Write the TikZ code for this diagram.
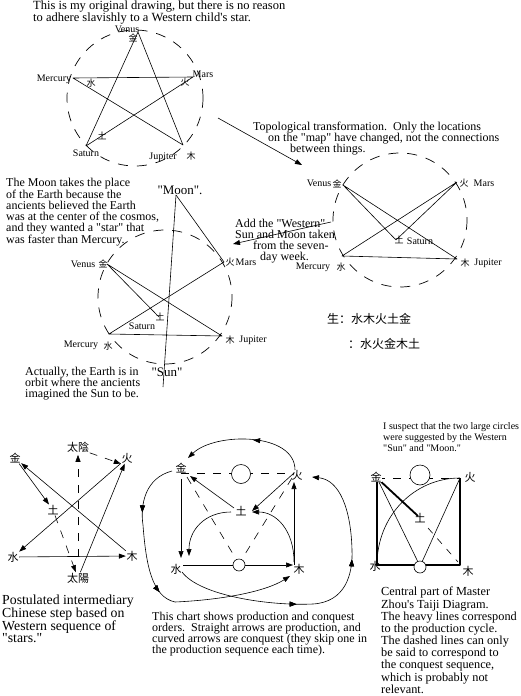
\documentclass[tikz,border=0pt]{standalone}
\usepackage{fontspec}
\setmainfont{Liberation Serif}
\newfontfamily\cjk{Noto Sans CJK SC}
\usetikzlibrary{arrows.meta,decorations.markings}
\newcommand{\qq}{\textquotedbl}
\newcommand{\ap}{\textquotesingle}
\tikzset{
  orbit/.style={line width=.7pt, dash pattern=on 10pt off 9pt},
  ray/.style={line width=.6pt},
  hint/.style={line width=.6pt, dash pattern=on 8pt off 8pt},
  heavy/.style={line width=2.6pt},
  planet/.style={font=\fontsize{10}{10}\selectfont, inner sep=0pt},
  zi/.style={font=\cjk\fontsize{9}{9}\selectfont, inner sep=0pt},
  bigzi/.style={font=\cjk\fontsize{11}{11}\selectfont, inner sep=.5pt},
  qlabel/.style={font=\fontsize{13}{13}\selectfont, inner sep=0pt},
  note/.style={font=\fontsize{12}{11}\selectfont, align=left, anchor=north west, inner sep=0pt},
  bignote/.style={font=\fontsize{13.8}{12.7}\selectfont, align=left, anchor=north west, inner sep=0pt},
  midarrow/.style={postaction={decorate}, decoration={markings, mark=at position #1 with {\arrow{Triangle[length=7pt,width=5pt]}}}},
}
\begin{document}
\begin{tikzpicture}[x=1pt, y=-1pt, line join=round, >={Triangle[length=7pt,width=5pt]}]
\useasboundingbox (0,0) rectangle (521,696);

% title
\node[note, font=\fontsize{12.5}{12}\selectfont] (title) at (33,1) {This is my original drawing, but there is no reason\\to adhere slavishly to a Western child\ap s star.};

% first star
\draw[orbit] (135,98) circle[radius=68];
\coordinate (ve1) at (138,32);
\coordinate (me1) at (73,78);
\coordinate (ma1) at (193,77);
\coordinate (sa1) at (86,146);
\coordinate (ju1) at (183,145);
\draw[ray] (ve1)--(sa1)--(ma1)--(me1)--(ju1)--cycle;
\node[planet] (venus1) at (127,29) {Venus};
\node[zi] (jin1) at (133,38) {金};
\node[planet] (mercury1) at (54,79) {Mercury};
\node[zi] (shui1) at (91,83) {水};
\node[planet] (mars1) at (203,74) {Mars};
\node[zi] (huo1) at (185,82) {火};
\node[planet] (saturn1) at (86,153) {Saturn};
\node[zi] (tu1) at (102,136) {土};
\node[planet] (jupiter1) at (163,157) {Jupiter};
\node[zi] (mu1) at (191,156) {木};

% transformation
\coordinate (tfrom) at (218,118);
\coordinate (tto) at (302,165);
\draw[ray,->] (tfrom) -- (tto);
\node[note] (topo) at (253,122) {Topological transformation.\ \ Only the locations\\\hspace*{15pt}on the \qq map\qq\ have changed, not the connections\\\hspace*{37pt}between things.};

% second star
\draw[orbit] (400,220) circle[radius=67];
\coordinate (ve2) at (343,185);
\coordinate (ma2) at (457,182);
\coordinate (sa2) at (396,240);
\coordinate (me2) at (342,256);
\coordinate (ju2) at (457,259);
\draw[ray] (ve2)--(sa2)--(ma2)--(me2)--(ju2)--cycle;
\node[planet] (venus2) at (319,183) {Venus};
\node[zi] (jin2) at (337,184) {金};
\node[planet] (mars2) at (484,183) {Mars};
\node[zi] (huo2) at (464,183) {火};
\node[planet] (saturn2) at (420,241) {Saturn};
\node[zi] (tu2) at (399,240) {土};
\node[planet] (mercury2) at (313,267) {Mercury};
\node[zi] (shui2) at (341,267) {水};
\node[planet] (jupiter2) at (488,263) {Jupiter};
\node[zi] (mu2) at (465,263) {木};

% sun and moon added
\node[note] (addsun) at (235,219) {Add the \qq Western\qq\\Sun and Moon taken\\\hspace*{18pt}from the seven-\\\hspace*{25pt}day week.};
\coordinate (afrom) at (331,222);
\coordinate (ato) at (233,244);
\draw[ray,->] (afrom) -- (ato);

\node[anchor=west, font=\cjk\fontsize{12}{12}\selectfont, inner sep=0pt] (sheng) at (327,319) {生：水木火土金};
\node[anchor=west, font=\cjk\fontsize{12}{12}\selectfont, inner sep=0pt] (ke) at (348,344) {：水火金木土};

% third star
\node[note] (moontext) at (6,178) {The Moon takes the place\\of the Earth because the\\ancients believed the Earth\\was at the center of the cosmos,\\and they wanted a \qq star\qq\ that\\was faster than Mercury.};
\draw[orbit] (165,297) circle[radius=67];
\coordinate (moon) at (176,195);
\coordinate (sun) at (163,387);
\coordinate (ve3) at (107,264);
\coordinate (ma3) at (224,262);
\coordinate (sa3) at (159,317);
\coordinate (me3) at (109,334);
\coordinate (ju3) at (222,336);
\draw[ray] (moon) -- (sun);
\draw[ray] (moon) -- (ma3) -- (me3) -- (ju3) -- (ve3) -- (sa3);
\node[qlabel] (moonL) at (180,190) {\qq Moon\qq.};
\node[planet] (venus3) at (83,264) {Venus};
\node[zi] (jin3) at (103,264) {金};
\node[planet] (mars3) at (246,262) {Mars};
\node[zi] (huo3) at (230,262) {火};
\node[planet] (saturn3) at (142,326) {Saturn};
\node[zi] (tu3) at (160,317) {土};
\node[planet] (mercury3) at (81,345) {Mercury};
\node[zi] (shui3) at (108,346) {水};
\node[planet] (jupiter3) at (253,340) {Jupiter};
\node[zi] (mu3) at (230,340) {木};
\node[qlabel] (sunL) at (167,372) {\qq Sun\qq};
\node[note] (earth) at (25,367) {Actually, the Earth is in\\orbit where the ancients\\imagined the Sun to be.};

% intermediary step
\node[bigzi] (yin) at (78,447) {太陰};
\node[bigzi] (jin4) at (15,458) {金};
\node[bigzi] (huo4) at (127,458) {火};
\node[bigzi] (tu4) at (53,510) {土};
\node[bigzi] (shui4) at (13,557) {水};
\node[bigzi] (mu4) at (132,556) {木};
\node[bigzi] (yang) at (78,578) {太陽};
\draw[hint,->,shorten <=15pt,shorten >=2pt] (yang) -- (yin);
\draw[hint,->] (yin.south east) -- (huo4.south west);
\draw[ray,->] (jin4) -- (tu4);
\draw[hint,->] (tu4) -- (yang);
\draw[ray,->] (yang) -- (huo4);
\draw[ray,->] (huo4) -- (shui4);
\draw[ray,->] (shui4) -- (mu4);
\draw[ray,->] (mu4) -- (jin4);
\node[bignote] (postulated) at (2,595) {Postulated intermediary\\Chinese step based on\\Western sequence of\\\qq stars.\qq};

% production and conquest chart
\coordinate (cj) at (181,473);
\coordinate (ch) at (294,473);
\coordinate (cs) at (181,565);
\coordinate (cm) at (294,565);
\coordinate (ct) at (241,512);
\draw[hint] (cj) -- (ch);
\draw[hint] (187,477) -- (236,559);
\draw[hint] (292,478) -- (242,559);
\draw[ray,fill=white] (241,474) circle[radius=9.5];
\draw[ray,->,shorten <=6pt,shorten >=7pt] (cj) -- (cs);
\draw[ray,->,shorten <=2pt,shorten >=1pt] (cs) -- (cm);
\draw[ray,fill=white] (239,565) circle[radius=6];
\draw[ray,->,shorten >=9pt] (cm) -- (ch);
\draw[ray,->] (ch) -- (252,511);
\draw[ray,->] (234,508) -- (190,476);
\draw[ray,->] (294,562) .. controls (294,530) and (276,512) .. (252,512);
\draw[ray,->] (231,512) .. controls (205,512) and (189,530) .. (189,556);
\draw[ray,->,midarrow=.45] (295,470) .. controls (295,432) and (215,432) .. (188,458);
\draw[ray,->,midarrow=.2,midarrow=.5] (172,471) .. controls (145,478) and (140,505) .. (143,525) .. controls (146,565) and (152,597) .. (175,602) .. controls (220,600) and (265,592) .. (290,576);
\draw[ray,->,midarrow=.4,midarrow=.67] (182,572) .. controls (200,596) and (270,606) .. (313,604) .. controls (345,602) and (353,575) .. (352,550) .. controls (351,510) and (340,480) .. (312,477);
\node[bigzi] (mj) at (181,468) {金};
\node[bigzi] (mh) at (297,475) {火};
\node[bigzi] (mt) at (241,511) {土};
\node[bigzi] (ms) at (176,569) {水};
\node[bigzi] (mm) at (299,569) {木};
\node[note] (chart) at (152,612) {This chart shows production and conquest\\orders.\ \ Straight arrows are production, and\\curved arrows are conquest (they skip one in\\the production sequence each time).};

% Zhou's diagram
\node[note, font=\fontsize{10}{11}\selectfont] (suspect) at (383,422) {I suspect that the two large circles\\were suggested by the Western\\\qq Sun\qq\ and \qq Moon.\qq};
\coordinate (tj) at (377,478);
\coordinate (th) at (460,478);
\coordinate (ts) at (377,565);
\coordinate (tm) at (460,565);
\coordinate (tt) at (418,516);
\draw[hint] (tj) -- (th);
\draw[ray] (tj) -- (418,562);
\draw[ray] (th) -- (422,562);
\draw[ray] (ts) .. controls (377,516) and (414,478) .. (th);
\draw[hint, dash pattern=on 7pt off 7pt] (428,528) -- (458,562);
\draw[heavy] (tj) -- (ts) -- (tm) -- (th);
\draw[line width=1.8pt] (tj) -- (tt);
\draw[ray,fill=white] (420,475) circle[radius=10];
\draw[ray,fill=white] (420,567) circle[radius=6];
\node[bigzi,fill=white] (tjL) at (376,477) {金};
\node[bigzi] (thL) at (470,477) {火};
\node[bigzi] (ttL) at (420,518) {土};
\node[bigzi] (tsL) at (375,566) {水};
\node[bigzi] (tmL) at (468,571) {木};
\node[note, font=\fontsize{12.3}{10.7}\selectfont] (zhou) at (381,587) {Central part of Master\\Zhou\ap s Taiji Diagram.\\The heavy lines correspond\\to the production cycle.\\The dashed lines can only\\be said to correspond to\\the conquest sequence,\\which is probably not\\relevant.};
\end{tikzpicture}
\end{document}
